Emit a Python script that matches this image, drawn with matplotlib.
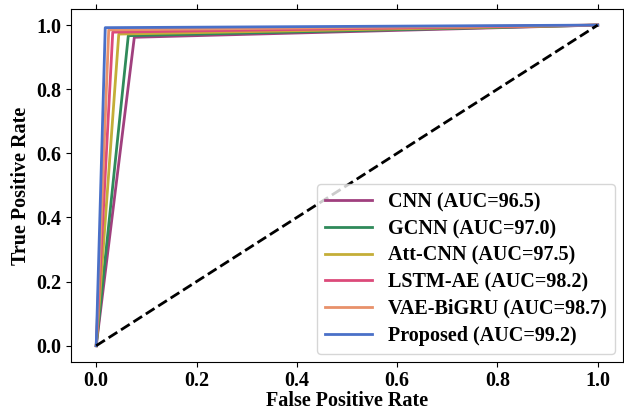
import numpy as np
import matplotlib
matplotlib.use("Agg")
import matplotlib.pyplot as plt

plt.rcParams['font.family'] = ['Liberation Serif', 'DejaVu Serif']
plt.rcParams['font.weight'] = 'bold'

models = ['CNN', 'GCNN', 'Att-CNN', 'LSTM-AE', 'VAE-BiGRU', 'Proposed']
auc = [96.5, 97.0, 97.5, 98.2, 98.7, 99.2]
fpr_knee = [0.076, 0.064, 0.045, 0.033, 0.025, 0.018]
tpr_knee = [0.962, 0.967, 0.972, 0.978, 0.985, 0.992]
colors = ['#a0407e', '#2f8a5a', '#c4ae38', '#dc4a7a', '#e8916a', '#4a70c8']

fig = plt.figure(figsize=(6.24, 4.12), dpi=100)
ax = fig.add_axes([0.114, 0.122, 0.884, 0.856])

for name, a, fx, ty, c in zip(models, auc, fpr_knee, tpr_knee, colors):
    ax.plot([0, fx, 1], [0, ty, 1], color=c, lw=2, label=f'{name} (AUC={a})')
ax.plot([0, 1], [0, 1], 'k--', lw=2)

ax.set_xlim(-0.05, 1.05)
ax.set_ylim(-0.05, 1.05)
ax.set_xticks(np.arange(0, 1.01, 0.2))
ax.set_yticks(np.arange(0, 1.01, 0.2))
ax.tick_params(labelsize=14.5, top=True)
ax.set_xlabel('False Positive Rate', fontsize=14.5, fontweight='bold', labelpad=0)
ax.set_ylabel('True Positive Rate', fontsize=14.5, fontweight='bold', labelpad=4)
ax.legend(loc='lower right', fontsize=14.5, handlelength=2.3, borderaxespad=0.4,
          labelspacing=0.33)

fig.savefig("out.png")
plt.close(fig)
